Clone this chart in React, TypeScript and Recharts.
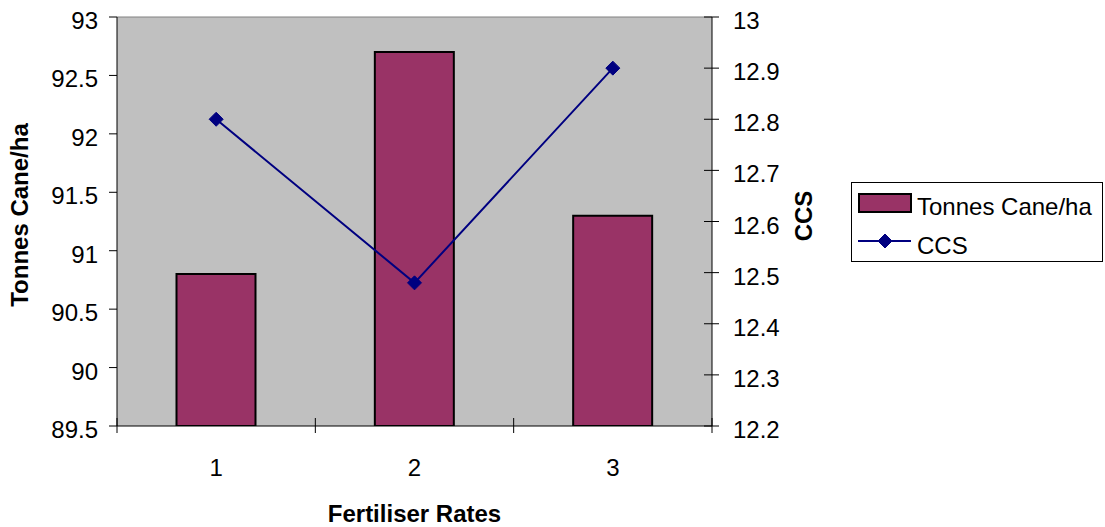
import React from "react";
import {
  ComposedChart,
  Bar,
  Line,
  XAxis,
  YAxis,
  CartesianGrid,
  ReferenceLine,
  Legend,
} from "recharts";

// Fertiliser trial results
const rates = ["1", "2", "3"];
const tonnesCane = [90.8, 92.7, 91.3];
const ccs = [12.8, 12.48, 12.9];

const leftTicks = [89.5, 90, 90.5, 91, 91.5, 92, 92.5, 93];
const rightTicks = [12.2, 12.3, 12.4, 12.5, 12.6, 12.7, 12.8, 12.9, 13];

const data = rates.map((rate, i) => ({
  rate,
  tonnes: tonnesCane[i],
  ccs: ccs[i],
}));

const FONT = "'Liberation Sans', Arial, sans-serif";
const BAR_FILL = "#993366";
const LINE_COLOR = "#000080";
const RIGHT_TICK_SIZE = 8;
const RIGHT_TICK_MARGIN = 13;

const LeftTick = (props: any) => {
  const { x, y, payload } = props;
  return (
    <text x={x} y={y + 12} textAnchor="end" fontFamily={FONT} fontSize={24} fill="#000">
      {payload.value}
    </text>
  );
};

// right-axis label plus a tick mark that crosses the axis line
const RightTick = (props: any) => {
  const { x, y, payload } = props;
  const axisX = x - RIGHT_TICK_SIZE - RIGHT_TICK_MARGIN;
  return (
    <g>
      <line x1={axisX - 8} x2={axisX + 7} y1={y} y2={y} stroke="#000" strokeWidth={1} />
      <text x={x} y={y + 12} textAnchor="start" fontFamily={FONT} fontSize={24} fill="#000">
        {payload.value}
      </text>
    </g>
  );
};

// category label, with tick marks on the category boundaries
const CategoryTick = (props: any) => {
  const { x, y, payload, width, visibleTicksCount, index } = props;
  const band = width && visibleTicksCount ? width / visibleTicksCount : 0;
  const edges: number[] = [];
  if (band) {
    edges.push(x - band / 2);
    if (index === visibleTicksCount - 1) edges.push(x + band / 2);
  }
  return (
    <g>
      {edges.map((ex, i) => (
        <line key={i} x1={ex} x2={ex} y1={y - 8} y2={y + 7} stroke="#000" strokeWidth={1} />
      ))}
      <text x={x} y={y + 50} textAnchor="middle" fontFamily={FONT} fontSize={24} fill="#000">
        {payload.value}
      </text>
    </g>
  );
};

const Diamond = (props: any) => {
  const { cx, cy } = props;
  if (cx == null || cy == null) return null;
  const r = 7;
  return (
    <polygon
      points={`${cx},${cy - r} ${cx + r},${cy} ${cx},${cy + r} ${cx - r},${cy}`}
      fill={LINE_COLOR}
      stroke={LINE_COLOR}
      strokeWidth={1}
    />
  );
};

const LeftTitle = (props: any) => {
  const { viewBox } = props;
  const cx = viewBox.x + 19;
  const cy = viewBox.y + viewBox.height / 2 - 6.5;
  return (
    <text
      transform={`translate(${cx},${cy}) rotate(-90)`}
      textAnchor="middle"
      dominantBaseline="central"
      fontFamily={FONT}
      fontSize={24}
      fontWeight="bold"
      fill="#000"
    >
      Tonnes Cane/ha
    </text>
  );
};

const RightTitle = (props: any) => {
  const { viewBox } = props;
  const cx = viewBox.x + 91;
  const cy = viewBox.y + viewBox.height / 2 - 5.5;
  return (
    <text
      transform={`translate(${cx},${cy}) rotate(-90)`}
      textAnchor="middle"
      dominantBaseline="central"
      fontFamily={FONT}
      fontSize={24}
      fontWeight="bold"
      fill="#000"
    >
      CCS
    </text>
  );
};

const BottomTitle = (props: any) => {
  const { viewBox } = props;
  const cx = viewBox.x + viewBox.width / 2;
  return (
    <text
      x={cx}
      y={viewBox.y + 96}
      textAnchor="middle"
      fontFamily={FONT}
      fontSize={24}
      fontWeight="bold"
      fill="#000"
    >
      Fertiliser Rates
    </text>
  );
};

const LegendBox = () => (
  <svg width={253} height={81} style={{ display: "block" }}>
    <rect x={0.5} y={0.5} width={251} height={79} fill="#fff" stroke="#000" strokeWidth={1} />
    <rect x={8} y={12} width={52} height={18} fill={BAR_FILL} stroke="#000" strokeWidth={2} />
    <text x={66} y={33} fontFamily={FONT} fontSize={24} fill="#000">
      Tonnes Cane/ha
    </text>
    <line x1={7} x2={60} y1={59} y2={59} stroke={LINE_COLOR} strokeWidth={2} />
    <Diamond cx={34} cy={59} />
    <text x={66} y={72} fontFamily={FONT} fontSize={24} fill="#000">
      CCS
    </text>
  </svg>
);

export default function App() {
  return (
    <div style={{ position: "absolute", left: 0, top: 0, background: "#fff" }}>
      <ComposedChart
        width={1105}
        height={527}
        data={data}
        margin={{ top: 17, right: 0, bottom: 0, left: 0 }}
        barCategoryGap="30%"
      >
        <CartesianGrid
          yAxisId="left"
          horizontal={false}
          vertical={false}
          fill="#c0c0c0"
          fillOpacity={1}
        />
        <XAxis
          dataKey="rate"
          height={101}
          axisLine={{ stroke: "#000", strokeWidth: 1 }}
          tickLine={false}
          tickSize={0}
          tickMargin={0}
          tick={<CategoryTick />}
          interval={0}
          label={<BottomTitle />}
        />
        <YAxis
          yAxisId="left"
          width={117}
          domain={[89.5, 93]}
          ticks={leftTicks}
          interval={0}
          allowDataOverflow
          axisLine={{ stroke: "#000", strokeWidth: 1 }}
          tickLine={{ stroke: "#000", strokeWidth: 1 }}
          tickSize={8}
          tickMargin={11}
          tick={<LeftTick />}
          label={<LeftTitle />}
        />
        <YAxis
          yAxisId="right"
          orientation="right"
          width={393}
          domain={[12.2, 13]}
          ticks={rightTicks}
          interval={0}
          allowDataOverflow
          axisLine={{ stroke: "#000", strokeWidth: 1 }}
          tickLine={false}
          tickSize={RIGHT_TICK_SIZE}
          tickMargin={RIGHT_TICK_MARGIN}
          tick={<RightTick />}
          label={<RightTitle />}
        />
        <ReferenceLine yAxisId="left" y={93} stroke="#808080" strokeWidth={1} />
        <Bar
          yAxisId="left"
          dataKey="tonnes"
          name="Tonnes Cane/ha"
          fill={BAR_FILL}
          stroke="#000"
          strokeWidth={2}
          isAnimationActive={false}
        />
        <Line
          yAxisId="right"
          dataKey="ccs"
          name="CCS"
          type="linear"
          stroke={LINE_COLOR}
          strokeWidth={2}
          dot={<Diamond />}
          activeDot={false}
          isAnimationActive={false}
        />
        <Legend
          layout="vertical"
          align="center"
          verticalAlign="middle"
          content={<LegendBox />}
          wrapperStyle={{ left: 851, top: 182, width: 253, height: 81 }}
        />
      </ComposedChart>
    </div>
  );
}
